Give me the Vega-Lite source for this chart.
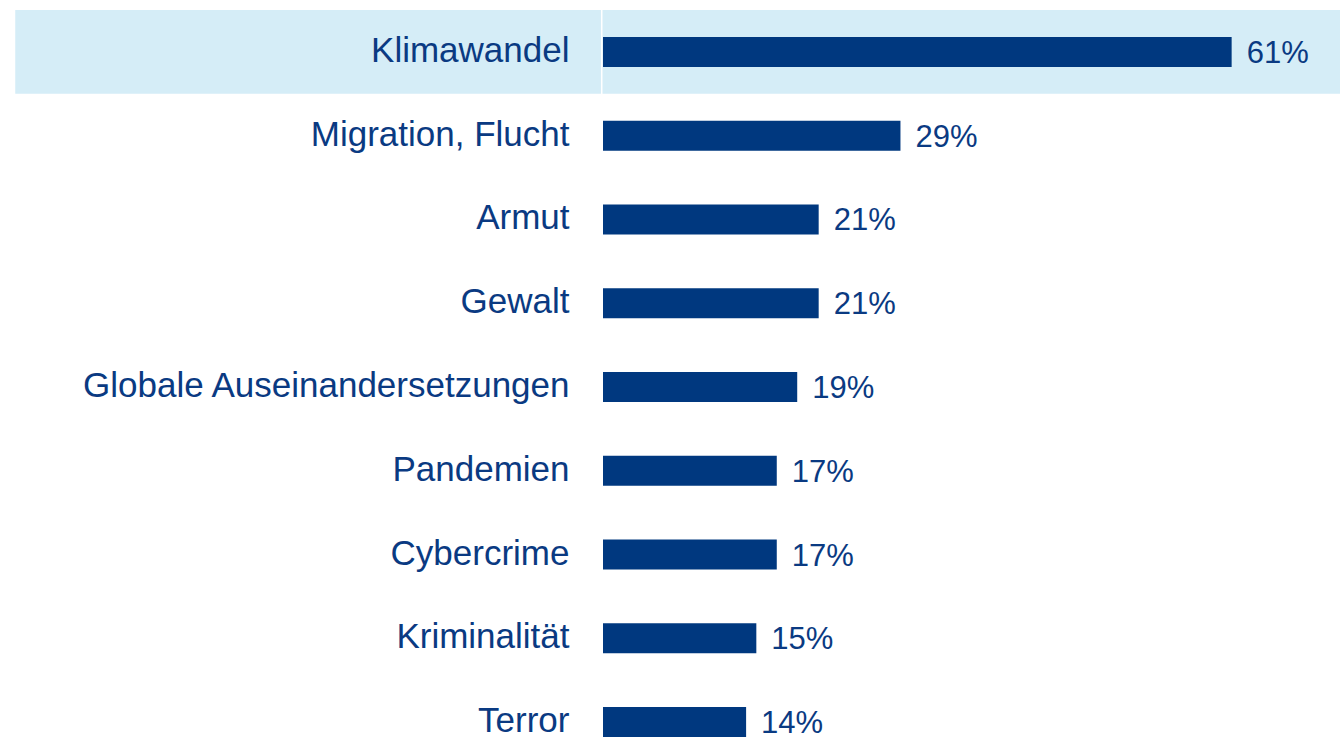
{
  "$schema": "https://vega.github.io/schema/vega-lite/v6.json",
  "autosize": {"type": "none"},
  "width": 737,
  "height": 754,
  "padding": {"left": 603, "top": 10, "right": 0, "bottom": 0},
  "background": "#ffffff",
  "config": {"view": {"stroke": null}, "font": "Liberation Sans"},
  "datasets": {
    "bars": [
      {"thema": "Klimawandel", "wert": 61.5, "label": "61%"},
      {"thema": "Migration, Flucht", "wert": 29.1, "label": "29%"},
      {"thema": "Armut", "wert": 21.1, "label": "21%"},
      {"thema": "Gewalt", "wert": 21.1, "label": "21%"},
      {"thema": "Globale Auseinandersetzungen", "wert": 19.0, "label": "19%"},
      {"thema": "Pandemien", "wert": 17.0, "label": "17%"},
      {"thema": "Cybercrime", "wert": 17.0, "label": "17%"},
      {"thema": "Kriminalität", "wert": 15.0, "label": "15%"},
      {"thema": "Terror", "wert": 14.0, "label": "14%"}
    ],
    "highlight": [
      {"thema": "Klimawandel", "von": -57.5, "bis": -0.2},
      {"thema": "Klimawandel", "von": -0.05, "bis": 72.1}
    ]
  },
  "layer": [
    {
      "data": {"name": "highlight"},
      "mark": {"type": "bar", "color": "#d5edf7", "clip": false},
      "encoding": {
        "y": {"field": "thema", "type": "nominal", "sort": null,
              "scale": {"domain": ["Klimawandel", "Migration, Flucht", "Armut", "Gewalt", "Globale Auseinandersetzungen", "Pandemien", "Cybercrime", "Kriminalität", "Terror"], "paddingInner": 0, "paddingOuter": 0},
              "axis": {"title": null, "domain": false, "ticks": false, "labelPadding": 34, "labelFontSize": 35, "labelColor": "#0a3a82", "labelFont": "Liberation Sans", "labelLimit": 0, "labelOffset": -1, "zindex": 1}},
        "x": {"field": "von", "type": "quantitative", "scale": {"domain": [0, 72.1], "nice": false, "zero": false}, "axis": null},
        "x2": {"field": "bis"}
      }
    },
    {
      "data": {"name": "bars"},
      "mark": {"type": "bar", "color": "#00387f", "height": 30},
      "encoding": {
        "y": {"field": "thema", "type": "nominal", "sort": null},
        "x": {"field": "wert", "type": "quantitative"}
      }
    },
    {
      "data": {"name": "bars"},
      "mark": {"type": "text", "align": "left", "baseline": "middle", "dx": 15, "dy": 2, "fontSize": 31, "color": "#0a3a82", "font": "Liberation Sans"},
      "encoding": {
        "y": {"field": "thema", "type": "nominal", "sort": null},
        "x": {"field": "wert", "type": "quantitative"},
        "text": {"field": "label"}
      }
    }
  ]
}
